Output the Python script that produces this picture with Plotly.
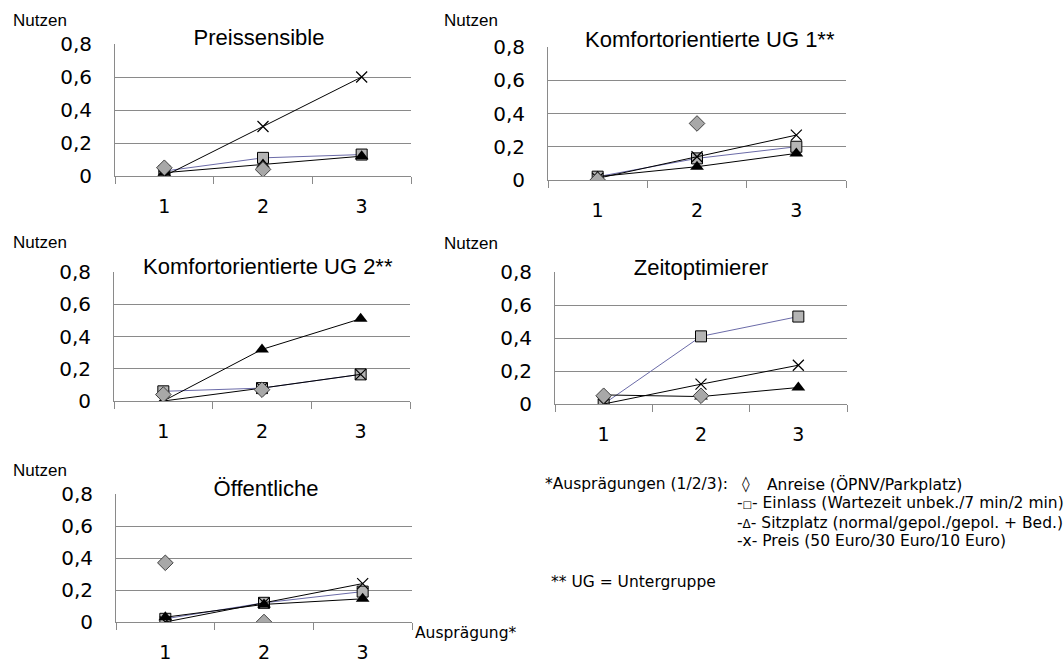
import plotly.graph_objects as go

W, H = 1064, 663

categories = ["1", "2", "3"]
anreise_levels = ["1", "2"]
ytick_vals = [0, 0.2, 0.4, 0.6, 0.8]
ytick_text = ["0", "0,2", "0,4", "0,6", "0,8"]

titles = ["Preissensible", "Komfortorientierte UG 1**", "Komfortorientierte UG 2**",
          "Zeitoptimierer", "Öffentliche"]

anreise = [[0.05, 0.04], [0.0, 0.34], [0.04, 0.07], [0.05, 0.05], [0.37, 0.0]]
einlass = [[0.03, 0.11, 0.13], [0.02, 0.13, 0.20], [0.06, 0.08, 0.165],
           [0.0, 0.41, 0.53], [0.02, 0.12, 0.19]]
sitzplatz = [[0.02, 0.07, 0.12], [0.02, 0.08, 0.16], [0.0, 0.32, 0.51],
             [0.055, 0.045, 0.10], [0.03, 0.11, 0.145]]
preis = [[0.0, 0.30, 0.60], [0.01, 0.14, 0.27], [0.0, 0.08, 0.165],
         [0.0, 0.12, 0.235], [0.0, 0.12, 0.24]]

# layout of panels in pixels: (x_left, x_right, y_top(0.8), y_bottom(0))
panels = [(115, 411, 44, 176), (548, 846, 47, 180), (114, 410, 272, 401),
          (555, 847, 272, 404), (116, 412, 494, 622)]
title_pos = [(259, 37, 160), (710, 39, 282), (268, 266, 276), (701, 267, 162), (266, 488, 128)]
nutzen_pos = [(40, 20), (471, 20), (40, 242), (471, 243), (40, 470)]

GRID = "#8a8a8a"
fig = go.Figure()

def px(x):
    return x / W

def py(y):
    return 1 - y / H

for i in range(5):
    xl, xr, yt, yb = panels[i]
    xa = "x" if i == 0 else f"x{i+1}"
    ya = "y" if i == 0 else f"y{i+1}"
    fig.add_trace(go.Scatter(x=categories, y=einlass[i], mode="lines+markers",
                             line=dict(color="#6b6ba8", width=1),
                             marker=dict(symbol="square", size=11, color="#b4b4b4",
                                         line=dict(color="#000000", width=1)),
                             xaxis=xa, yaxis=ya, showlegend=False))
    fig.add_trace(go.Scatter(x=categories, y=sitzplatz[i], mode="lines+markers",
                             line=dict(color="#000000", width=1),
                             marker=dict(symbol="triangle-up", size=12, color="#000000"),
                             xaxis=xa, yaxis=ya, showlegend=False))
    fig.add_trace(go.Scatter(x=categories, y=preis[i], mode="lines+markers",
                             line=dict(color="#000000", width=1),
                             marker=dict(symbol="x-thin", size=11,
                                         line=dict(color="#000000", width=1.2)),
                             xaxis=xa, yaxis=ya, showlegend=False))
    fig.add_trace(go.Scatter(x=anreise_levels, y=anreise[i], mode="markers",
                             marker=dict(symbol="diamond", size=12, color="#a8a8a8",
                                         line=dict(color="#404040", width=1)),
                             xaxis=xa, yaxis=ya, showlegend=False))
    fig.layout[("xaxis" if i == 0 else f"xaxis{i+1}")] = dict(
        domain=[px(xl), px(xr)], anchor=ya, type="category",
        categoryorder="array", categoryarray=categories,
        range=[-0.5, 2.5], tickson="boundaries", ticks="outside", ticklen=7,
        tickcolor=GRID, showline=True, linecolor=GRID, linewidth=1,
        showgrid=False, zeroline=False, automargin=False,
        tickfont=dict(family="DejaVu Sans", size=19, color="#000000"),
        ticklabelstandoff=13, fixedrange=True)
    fig.layout[("yaxis" if i == 0 else f"yaxis{i+1}")] = dict(
        domain=[py(yb), py(yt)], anchor=xa, range=[0, 0.8],
        tickvals=ytick_vals, ticktext=ytick_text, ticks="",
        showline=True, linecolor=GRID, linewidth=1, automargin=False,
        showgrid=True, gridcolor=GRID, gridwidth=1, zeroline=False,
        tickfont=dict(family="DejaVu Sans", size=20, color="#000000"),
        ticklabelstandoff=18, fixedrange=True)
    tx, ty, tw = title_pos[i]
    fig.add_annotation(x=px(tx), y=py(ty), xref="paper", yref="paper",
                       text=titles[i], showarrow=False, xanchor="center", yanchor="middle",
                       bgcolor="#ffffff", width=tw, borderpad=3,
                       font=dict(family="Liberation Sans", size=22, color="#000000"))
    nx, ny = nutzen_pos[i]
    fig.add_annotation(x=px(nx), y=py(ny), xref="paper", yref="paper",
                       text="Nutzen", showarrow=False, xanchor="center", yanchor="middle",
                       font=dict(family="Liberation Sans", size=17, color="#000000"))

LEG = dict(family="DejaVu Sans", size=15.5, color="#000000")
fig.add_annotation(x=px(730), y=py(484), xref="paper", yref="paper", text="*Ausprägungen (1/2/3):",
                   showarrow=False, xanchor="right", yanchor="middle", font=LEG)
fig.add_annotation(x=px(746), y=py(484), xref="paper", yref="paper", text="◊",
                   showarrow=False, xanchor="center", yanchor="middle", font=LEG)
fig.add_annotation(x=px(765), y=py(484), xref="paper", yref="paper", text="Anreise (ÖPNV/Parkplatz)",
                   showarrow=False, xanchor="left", yanchor="middle", font=LEG)
fig.add_annotation(x=px(735), y=py(503), xref="paper", yref="paper",
                   text="-<span style='font-size:10px'>□</span>- Einlass (Wartezeit unbek./7 min/2 min)",
                   showarrow=False, xanchor="left", yanchor="middle", font=LEG)
fig.add_annotation(x=px(735), y=py(523), xref="paper", yref="paper",
                   text="-<span style='font-size:12px'>Δ</span>- Sitzplatz (normal/gepol./gepol. + Bed.)",
                   showarrow=False, xanchor="left", yanchor="middle", font=LEG)
fig.add_annotation(x=px(735), y=py(541), xref="paper", yref="paper",
                   text="-x- Preis (50 Euro/30 Euro/10 Euro)",
                   showarrow=False, xanchor="left", yanchor="middle", font=LEG)
fig.add_annotation(x=px(549), y=py(582), xref="paper", yref="paper",
                   text="** UG = Untergruppe",
                   showarrow=False, xanchor="left", yanchor="middle", font=LEG)
fig.add_annotation(x=px(413), y=py(633), xref="paper", yref="paper",
                   text="Ausprägung*",
                   showarrow=False, xanchor="left", yanchor="middle", font=LEG)

fig.update_layout(width=W, height=H,
                  margin=dict(l=0, r=0, t=0, b=0, pad=0, autoexpand=False),
                  paper_bgcolor="#ffffff", plot_bgcolor="#ffffff", showlegend=False)

fig.write_html("out.html", config={"displayModeBar": False})
